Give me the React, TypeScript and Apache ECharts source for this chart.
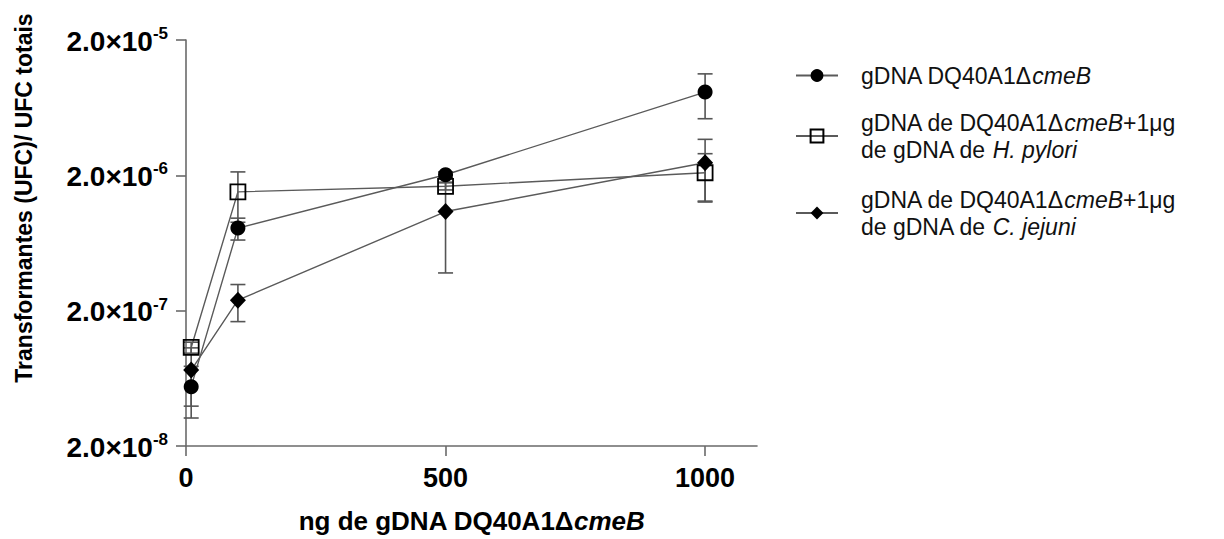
import React, { useEffect, useRef } from "react";
import * as echarts from "echarts";

// x values (ng of gDNA)
const xValues = [10, 100, 500, 1000];
const xTickValues = [0, 500, 1000];
const xMax = 1100;

// y tick values (log axis)
const yTickValues = [2e-8, 2e-7, 2e-6, 2e-5];

// series names
const nameA = "gDNA DQ40A1ΔcmeB";
const nameB = "gDNA de DQ40A1ΔcmeB+1μg de gDNA de H. pylori";
const nameC = "gDNA de DQ40A1ΔcmeB+1μg de gDNA de C. jejuni";

// means and SDs
const meanA = [5.49e-8, 8.15e-7, 2.02e-6, 8.24e-6];
const sdA = [2.27e-8, 1.5e-7, 0.1e-6, 3.0e-6];
const meanB = [1.07e-7, 1.51e-6, 1.66e-6, 2.09e-6];
const sdB = [0.1e-7, 0.61e-6, 0.1e-6, 0.8e-6];
const meanC = [7.28e-8, 2.39e-7, 1.08e-6, 2.48e-6];
const sdC = [3.34e-8, 7.3e-8, 7.0e-7, 1.21e-6];

// the log axis runs in units of the tick mantissa (2.0) so that its decades fall on 2.0×10^n
const UNIT = 2;

const FONT = "Liberation Sans, Arial, Helvetica, sans-serif";
const LINE_COLOR = "#5a5a5a";
const ERR_COLOR = "#555555";
const AXIS_COLOR = "#6a6a6a";

function lineData(means: number[]) {
  return xValues.map((x, i) => [x, means[i] / UNIT]);
}
function errData(means: number[], sds: number[]) {
  return xValues.map((x, i) => [x, (means[i] - sds[i]) / UNIT, (means[i] + sds[i]) / UNIT]);
}

function errSeries(means: number[], sds: number[]) {
  return {
    type: "custom",
    z: 1,
    silent: true,
    data: errData(means, sds),
    encode: { x: 0, y: [1, 2] },
    renderItem: (params: any, api: any) => {
      const x = api.value(0);
      const lo = api.coord([x, api.value(1)]);
      const hi = api.coord([x, api.value(2)]);
      const hw = 7.5;
      const style = { stroke: ERR_COLOR, lineWidth: 1.6 };
      return {
        type: "group",
        children: [
          { type: "line", shape: { x1: lo[0], y1: lo[1], x2: hi[0], y2: hi[1] }, style },
          { type: "line", shape: { x1: lo[0] - hw, y1: lo[1], x2: lo[0] + hw, y2: lo[1] }, style },
          { type: "line", shape: { x1: hi[0] - hw, y1: hi[1], x2: hi[0] + hw, y2: hi[1] }, style },
        ],
      };
    },
  };
}

const LFS = 23;
const LLH = 27;
const legendRich = {
  sp: { width: 18, fontSize: LFS, lineHeight: LLH },
  n: { fontSize: LFS, lineHeight: LLH, fontFamily: FONT, color: "#111" },
  i: { fontSize: LFS, lineHeight: LLH, fontFamily: FONT, color: "#111", fontStyle: "italic" },
};

function legendLabel(name: string) {
  if (name === nameA) return "{sp|}{n|gDNA DQ40A1Δ}{i|cmeB}";
  if (name === nameB)
    return "{sp|}{n|gDNA de DQ40A1Δ}{i|cmeB}{n|+1μg}\n{sp|}{n|de gDNA de }{i|H. pylori}";
  return "{sp|}{n|gDNA de DQ40A1Δ}{i|cmeB}{n|+1μg}\n{sp|}{n|de gDNA de }{i|C. jejuni}";
}

function makeLegend(name: string, top: number) {
  return {
    show: true,
    data: [name],
    left: 795,
    top,
    padding: 0,
    itemWidth: 42,
    itemHeight: 16,
    selectedMode: false,
    formatter: legendLabel,
    textStyle: { fontFamily: FONT, fontSize: LFS, lineHeight: LLH, color: "#111", rich: legendRich },
  };
}

export default function App() {
  const ref = useRef<HTMLDivElement>(null);
  useEffect(() => {
    if (!ref.current) return;
    const chart = echarts.init(ref.current, undefined, { renderer: "svg" });
    const option: any = {
      animation: false,
      backgroundColor: "#ffffff",
      grid: { left: 186, top: 40, right: 467, bottom: 91, containLabel: false },
      legend: [makeLegend(nameA, 62), makeLegend(nameB, 109), makeLegend(nameC, 186)],
      xAxis: {
        type: "value",
        min: 0,
        max: xMax,
        splitLine: { show: false },
        axisLine: { show: true, onZero: false, lineStyle: { color: AXIS_COLOR, width: 1.6 } },
        axisTick: { show: true, inside: false, length: 10, customValues: xTickValues, lineStyle: { color: AXIS_COLOR, width: 1.6 } },
        axisLabel: {
          customValues: xTickValues,
          formatter: (v: number) => String(v),
          margin: 18,
          fontFamily: FONT,
          fontSize: 27,
          fontWeight: "bold",
          color: "#000",
        },
        name: "ng de gDNA DQ40A1Δ{i|cmeB}",
        nameLocation: "middle",
        nameGap: 62,
        nameTextStyle: {
          fontFamily: FONT,
          fontSize: 26,
          fontWeight: "bold",
          color: "#000",
          rich: { i: { fontFamily: FONT, fontSize: 26, fontWeight: "bold", fontStyle: "italic", color: "#000" } },
        },
      },
      yAxis: {
        type: "log",
        logBase: 10,
        min: yTickValues[0] / UNIT,
        max: yTickValues[yTickValues.length - 1] / UNIT,
        splitLine: { show: false },
        minorTick: { show: false },
        axisLine: { show: true, onZero: false, lineStyle: { color: AXIS_COLOR, width: 1.6 } },
        axisTick: { show: true, inside: false, length: 10, lineStyle: { color: AXIS_COLOR, width: 1.6 } },
        axisLabel: {
          margin: 18,
          formatter: (val: number) => {
            const real = val * UNIT;
            const exp = Math.floor(Math.log10(real) + 1e-9);
            const mant = real / Math.pow(10, exp);
            return `{m|${mant.toFixed(1)}×10}{s|${exp}}`;
          },
          rich: {
            m: { fontFamily: FONT, fontSize: 28, fontWeight: "bold", color: "#000", lineHeight: 30, verticalAlign: "bottom" },
            s: { fontFamily: FONT, fontSize: 17, fontWeight: "bold", color: "#000", lineHeight: 30, verticalAlign: "top" },
          },
        },
      },
      graphic: [
        {
          type: "text",
          x: 24,
          y: 198,
          rotation: Math.PI / 2,
          style: {
            text: "Transformantes (UFC)/ UFC totais",
            fontFamily: FONT,
            fontSize: 23,
            fontWeight: "bold",
            fill: "#000",
            align: "center",
            verticalAlign: "middle",
          },
        },
      ],
      series: [
        errSeries(meanA, sdA),
        errSeries(meanB, sdB),
        errSeries(meanC, sdC),
        {
          name: nameA,
          type: "line",
          z: 3,
          data: lineData(meanA),
          symbol: "circle",
          symbolSize: 15,
          lineStyle: { color: LINE_COLOR, width: 1.4 },
          itemStyle: { color: "#000", borderColor: "#000", borderWidth: 0 },
        },
        {
          name: nameB,
          type: "line",
          z: 3,
          data: lineData(meanB),
          symbol: "rect",
          symbolSize: 15,
          lineStyle: { color: LINE_COLOR, width: 1.4 },
          itemStyle: { color: "rgba(255,255,255,0)", borderColor: "#000", borderWidth: 1.8 },
        },
        {
          name: nameC,
          type: "line",
          z: 3,
          data: lineData(meanC),
          symbol: "diamond",
          symbolSize: [16, 17],
          lineStyle: { color: LINE_COLOR, width: 1.4 },
          itemStyle: { color: "#000", borderColor: "#000", borderWidth: 0 },
        },
      ],
    };
    chart.setOption(option);
    return () => chart.dispose();
  }, []);
  return (
    <div
      ref={ref}
      style={{ position: "fixed", left: 0, top: 0, width: 1224, height: 539, background: "#fff" }}
    />
  );
}
